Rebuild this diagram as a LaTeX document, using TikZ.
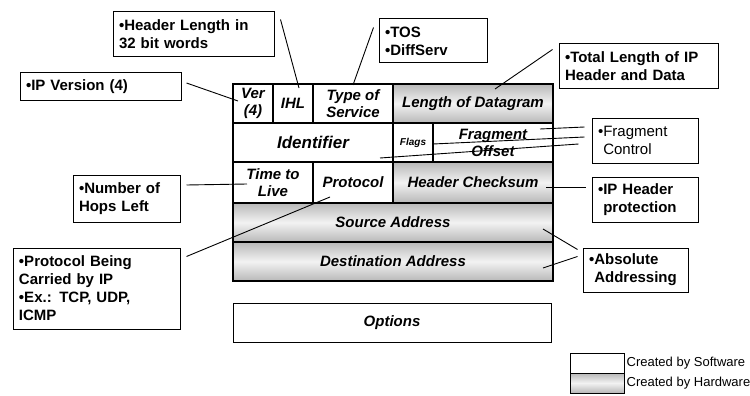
\documentclass[tikz,border=0pt]{standalone}
\usepackage{fontspec}
\setsansfont{Liberation Sans}

\begin{document}
\begin{tikzpicture}[x=1pt,y=-1pt,
    field/.style={draw,line width=1.2pt,inner sep=0pt,align=center,
      font=\sffamily\bfseries\itshape\fontsize{15}{17}\selectfont},
    hw/.style={top color=black!28,bottom color=black!28,middle color=black!5},
    callout/.style={draw,line width=1pt,inner xsep=6pt,inner ysep=0pt,align=left,
      font=\sffamily\bfseries\fontsize{15}{18}\selectfont},
    lead/.style={line width=0.9pt}]
\useasboundingbox (0,0) rectangle (750,396);

% header fields, one row per 32 bit word
\node[field,minimum width=40pt,minimum height=39pt] (ver) at (253,103.5) {Ver\\(4)};
\node[field,minimum width=40pt,minimum height=39pt] (ihl) at (293,103.5) {IHL};
\node[field,minimum width=80pt,minimum height=39pt] (tos) at (353,103.5) {Type of\\Service};
\node[field,hw,minimum width=160pt,minimum height=39pt] (len) at (473,103.5) {Length of Datagram};

\node[field,minimum width=160pt,minimum height=39pt,font=\sffamily\bfseries\itshape\fontsize{17}{19}\selectfont] (ident) at (313,142.5) {Identifier};
\node[field,minimum width=40pt,minimum height=39pt,font=\sffamily\bfseries\itshape\fontsize{10}{12}\selectfont] (flags) at (413,142.5) {Flags};
\node[field,minimum width=120pt,minimum height=39pt] (frag) at (493,142.5) {Fragment\\Offset};

\node[field,minimum width=80pt,minimum height=41pt] (ttl) at (273,182.5) {Time to\\Live};
\node[field,minimum width=80pt,minimum height=41pt] (proto) at (353,182.5) {Protocol};
\node[field,hw,minimum width=160pt,minimum height=41pt] (chk) at (473,182.5) {Header Checksum};

\node[field,hw,minimum width=320pt,minimum height=39pt] (src) at (393,222.5) {Source Address};
\node[field,hw,minimum width=320pt,minimum height=39pt] (dst) at (393,261.5) {Destination Address};

\node[field,line width=1pt,minimum width=318pt,minimum height=39pt] (opts) at (392,322.5) {Options};

% notes round the header
\node[callout,text width=149pt,minimum height=45pt] (hlennote) at (193.5,34.5) {\textbullet Header Length in\\32 bit words};
\node[callout,text width=96pt,minimum height=44pt] (tosnote) at (433,41) {\textbullet TOS\\\textbullet DiffServ};
\node[callout,text width=147pt,minimum height=45pt] (lennote) at (638.5,66.5) {\textbullet Total Length of IP\\Header and Data};
\node[callout,text width=149pt,minimum height=27pt] (vernote) at (100.5,86.5) {\textbullet IP Version (4)};
\node[callout,text width=94pt,minimum height=45pt,font=\sffamily\fontsize{15}{18}\selectfont] (fragnote) at (645,140.5) {\textbullet Fragment\\\hphantom{\textbullet}Control};
\node[callout,text width=94pt,minimum height=45pt] (chknote) at (645,199.5) {\textbullet IP Header\\\hphantom{\textbullet}protection};
\node[callout,text width=95pt,minimum height=47pt] (ttlnote) at (126.5,198.5) {\textbullet Number of\\Hops Left};
\node[callout,text width=155pt,minimum height=81pt] (protonote) at (96.5,288.5) {\textbullet Protocol Being\\Carried by IP\\\textbullet Ex.: TCP, UDP,\\ICMP};
\node[callout,text width=93pt,minimum height=44pt] (addrnote) at (635.5,270) {\textbullet Absolute\\\hphantom{\textbullet}Addressing};

% where the leader lines end
\coordinate (verpt) at (238,101);
\coordinate (ihlpt) at (299,88);
\coordinate (tospt) at (353,85);
\coordinate (lenpt) at (495,89);
\coordinate (fragpt) at (540,129);
\coordinate (flagpt) at (433,144);
\coordinate (identpt) at (380,158);
\coordinate (ttlpt) at (247,184);
\coordinate (protopt) at (330,197);
\coordinate (chkpt) at (546,187);
\coordinate (srcpt) at (543,229);
\coordinate (dstpt) at (543,268);

\draw[lead] ([shift={(5,-3.5)}]vernote.east) -- (verpt);
\draw[lead] ([shift={(6,8)}]hlennote.north east) -- (ihlpt);
\draw[lead] ([shift={(-5,9)}]tosnote.north west) -- (tospt);
\draw[lead] ([shift={(-6,6)}]lennote.north west) -- (lenpt);
\draw[lead] ([shift={(-7,-13.5)}]fragnote.west) -- (fragpt);
\draw[lead] ([shift={(-7,-3.5)}]fragnote.west) -- (flagpt);
\draw[lead] ([shift={(-13,3.5)}]fragnote.west) -- (identpt);
\draw[lead] ([shift={(6,-13.5)}]ttlnote.east) -- (ttlpt);
\draw[lead] ([shift={(6,9)}]protonote.north east) -- (protopt);
\draw[lead] ([shift={(-6,-12.5)}]chknote.west) -- (chkpt);
\draw[lead] ([shift={(-5,2)}]addrnote.north west) -- (srcpt);
\draw[lead] ([shift={(-5,9)}]addrnote.north west) -- (dstpt);

% key
\node[draw,line width=1pt,minimum width=54pt,minimum height=20pt] (swkey) at (597,363) {};
\node[draw,hw,line width=1pt,minimum width=54pt,minimum height=20pt] (hwkey) at (597,383) {};
\node[anchor=west,inner sep=2pt,font=\sffamily\fontsize{13}{15}\selectfont] (swlabel) at (swkey.east) {Created by Software};
\node[anchor=west,inner sep=2pt,font=\sffamily\fontsize{13}{15}\selectfont] (hwlabel) at (hwkey.east) {Created by Hardware};
\end{tikzpicture}
\end{document}
